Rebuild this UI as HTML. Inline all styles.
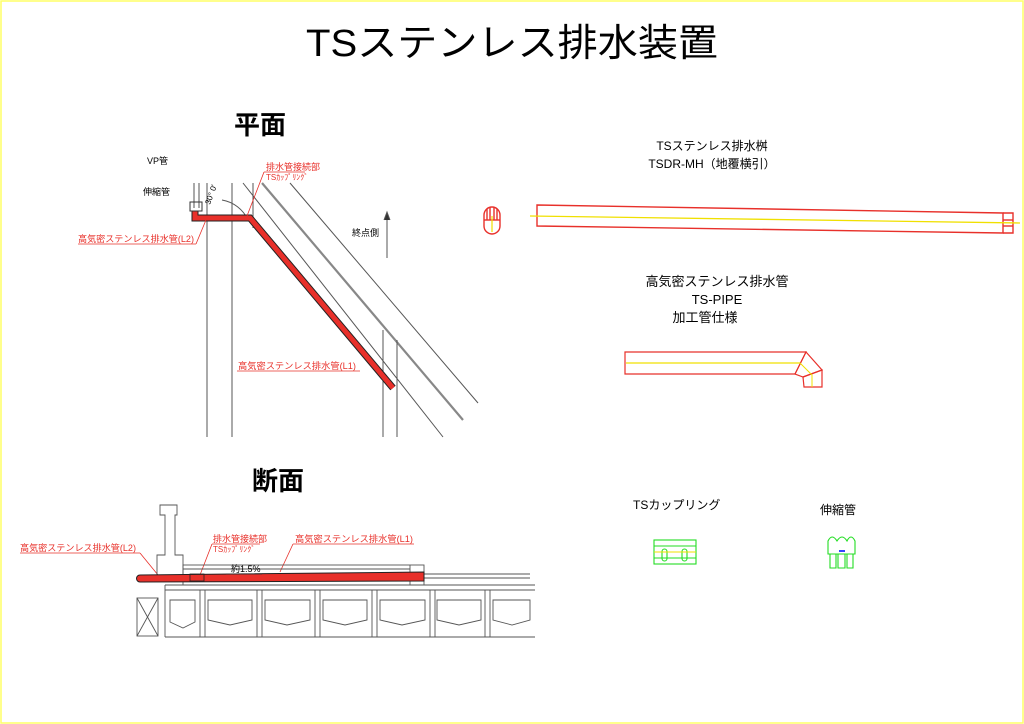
<!DOCTYPE html>
<html><head><meta charset="utf-8"><style>
html,body{margin:0;padding:0;background:#fff;}
svg{display:block;}
text{font-family:"Liberation Sans","Noto Sans CJK JP",sans-serif;}
</style></head><body>
<svg width="1024" height="724" viewBox="0 0 1024 724" xmlns="http://www.w3.org/2000/svg">
<rect x="1" y="1" width="1022" height="722" fill="#fff" stroke="#ffff66" stroke-width="1.5"/>
<text x="512" y="56" font-size="38" text-anchor="middle" fill="#000" textLength="412" lengthAdjust="spacingAndGlyphs">TSステンレス排水装置</text>
<text x="260" y="134" font-size="26" font-weight="bold" text-anchor="middle">平面</text>
<text x="278" y="490" font-size="26" font-weight="bold" text-anchor="middle">断面</text>

<g stroke="#555" stroke-width="1" fill="none">
<line x1="207" y1="183" x2="207" y2="437"/>
<line x1="232" y1="183" x2="232" y2="437"/>
<line x1="253" y1="183" x2="253" y2="228"/>
<line x1="243" y1="183" x2="443" y2="437"/>
<line x1="262" y1="183" x2="463" y2="420" stroke-width="2.2" stroke="#888"/>
<line x1="290" y1="183" x2="478" y2="403"/>
<line x1="383" y1="330" x2="383" y2="437"/>
<line x1="397" y1="340" x2="397" y2="437"/>
<line x1="194" y1="183" x2="194" y2="208"/>
<line x1="199" y1="183" x2="199" y2="208"/>
<path d="M222 200 A35 35 0 0 1 248 220"/>
<line x1="387" y1="258" x2="387" y2="214"/>
<path d="M384 220 L387 212 L390 220" fill="#333"/>
</g>
<path d="M195 211 L195 218 L250 218 L393 388" stroke="#222" stroke-width="7" fill="none" stroke-linejoin="miter"/>
<path d="M195 211 L195 218 L250 218 L393 388" stroke="#e8302a" stroke-width="5" fill="none"/>
<rect x="190" y="202" width="12" height="9" fill="none" stroke="#333"/>
<text x="210" y="205" font-size="8" transform="rotate(-70 210 205)">30° 0'</text>
<text x="147" y="164" font-size="9">VP管</text>
<text x="143" y="195" font-size="9">伸縮管</text>
<text x="352" y="236" font-size="9">終点側</text>
<g fill="#e8302a" font-size="9">
<text x="266" y="170">排水管接続部</text>
<text x="266" y="180" font-size="8">TSｶｯﾌﾟﾘﾝｸﾞ</text>
<text x="78" y="242" textLength="116" lengthAdjust="spacingAndGlyphs">高気密ステンレス排水管(L2)</text>
<text x="238" y="369" textLength="118" lengthAdjust="spacingAndGlyphs">高気密ステンレス排水管(L1)</text>
<text x="20" y="551" textLength="116" lengthAdjust="spacingAndGlyphs">高気密ステンレス排水管(L2)</text>
<text x="213" y="542">排水管接続部</text>
<text x="213" y="552" font-size="8">TSｶｯﾌﾟﾘﾝｸﾞ</text>
<text x="295" y="542" textLength="118" lengthAdjust="spacingAndGlyphs">高気密ステンレス排水管(L1)</text>
</g>
<g stroke="#e8302a" stroke-width="0.8" fill="none">
<line x1="264" y1="172" x2="305" y2="172"/><line x1="264" y1="172" x2="247" y2="216"/>
<line x1="78" y1="244" x2="196" y2="244"/><line x1="196" y1="244" x2="206" y2="220"/>
<line x1="237" y1="371" x2="360" y2="371"/>
<line x1="20" y1="553" x2="140" y2="553"/><line x1="140" y1="553" x2="158" y2="575"/>
<line x1="212" y1="544" x2="260" y2="544"/><line x1="212" y1="544" x2="200" y2="575"/>
<line x1="293" y1="544" x2="414" y2="544"/><line x1="293" y1="544" x2="280" y2="572"/>
</g>

<g stroke="#555" stroke-width="0.9" fill="none">
<path d="M160 505 H177 V515 H175 V555 H183 V580 H157 V555 H165 V515 H160 Z"/>
<rect x="183" y="565" width="241" height="20"/>
<line x1="183" y1="569" x2="410" y2="569"/>
<line x1="410" y1="565" x2="410" y2="585"/>
<line x1="424" y1="574" x2="530" y2="574"/>
<line x1="424" y1="578" x2="530" y2="578"/>
<line x1="165" y1="585" x2="535" y2="585"/>
<line x1="165" y1="590" x2="535" y2="590"/>
<line x1="165" y1="637" x2="535" y2="637"/>
<rect x="137" y="598" width="21" height="38"/>
<line x1="137" y1="598" x2="158" y2="636"/><line x1="158" y1="598" x2="137" y2="636"/>
<line x1="165" y1="585" x2="165" y2="637"/>
<line x1="200" y1="590" x2="200" y2="637"/><line x1="205" y1="590" x2="205" y2="637"/>
<line x1="257" y1="590" x2="257" y2="637"/><line x1="262" y1="590" x2="262" y2="637"/>
<line x1="315" y1="590" x2="315" y2="637"/><line x1="320" y1="590" x2="320" y2="637"/>
<line x1="372" y1="590" x2="372" y2="637"/><line x1="377" y1="590" x2="377" y2="637"/>
<line x1="430" y1="590" x2="430" y2="637"/><line x1="435" y1="590" x2="435" y2="637"/>
<line x1="485" y1="590" x2="485" y2="637"/><line x1="490" y1="590" x2="490" y2="637"/>
<path d="M170 600 H195 V622 L183 628 L170 622 Z"/>
<path d="M208 600 H252 V620 L230 625 L208 620 Z"/>
<path d="M265 600 H310 V620 L287 625 L265 620 Z"/>
<path d="M323 600 H367 V620 L345 625 L323 620 Z"/>
<path d="M380 600 H425 V620 L402 625 L380 620 Z"/>
<path d="M437 600 H481 V620 L459 625 L437 620 Z"/>
<path d="M493 600 H530 V620 L512 625 L493 620 Z"/>
</g>
<path d="M140 575 L424 572 L424 581 L140 582 A3.5 3.5 0 0 1 140 575 Z" fill="#e8302a" stroke="#222" stroke-width="1"/>
<rect x="190" y="574" width="14" height="7" fill="none" stroke="#222" stroke-width="0.8"/>
<text x="231" y="572" font-size="9">約1.5%</text>
<line x1="226" y1="574" x2="262" y2="574" stroke="#333" stroke-width="0.7"/>

<text x="712" y="150" font-size="12" text-anchor="middle">TSステンレス排水桝</text>
<text x="712" y="168" font-size="12" text-anchor="middle">TSDR-MH（地覆横引）</text>
<g fill="none" stroke="#e8302a" stroke-width="1.4">
<path d="M484 215 A8 8 0 0 1 500 215 L500 226 A8 8 0 0 1 484 226 Z"/>
<line x1="487" y1="209" x2="487" y2="220"/><line x1="490" y1="207" x2="490" y2="220"/><line x1="494" y1="207" x2="494" y2="220"/><line x1="497" y1="209" x2="497" y2="220"/>
<line x1="484" y1="220" x2="500" y2="220"/>
<path d="M537 205 L1003 213 L1003 233 L537 226 Z"/>
<path d="M1003 213 H1013 V233 H1003"/>
<line x1="1003" y1="220" x2="1013" y2="220"/><line x1="1003" y1="226" x2="1013" y2="226"/>
</g>
<line x1="530" y1="216" x2="1020" y2="223" stroke="#f0e000" stroke-width="1.3"/>
<line x1="492" y1="216" x2="492" y2="232" stroke="#f0e000" stroke-width="1.2"/>
<text x="717" y="286" font-size="13" text-anchor="middle">高気密ステンレス排水管</text>
<text x="717" y="304" font-size="13" text-anchor="middle">TS-PIPE</text>
<text x="705" y="322" font-size="13" text-anchor="middle">加工管仕様</text>
<g fill="none" stroke="#e8302a" stroke-width="1.2">
<path d="M625 352 H806 L795 374 H625 Z"/>
<path d="M806 352 L822 370 L803 377 L795 374 Z"/>
<path d="M803 377 L822 370 V387 H804 Z"/>
</g>
<line x1="626" y1="363" x2="800" y2="363" stroke="#f0e000" stroke-width="1.3"/>
<path d="M800 363 L812 375 V387" stroke="#f0e000" stroke-width="1" fill="none"/>

<text x="633" y="509" font-size="12">TSカップリング</text>
<text x="820" y="514" font-size="12">伸縮管</text>
<g fill="none" stroke="#22dd22" stroke-width="1.1">
<rect x="654" y="540" width="42" height="24"/>
<line x1="654" y1="546" x2="696" y2="546"/>
<line x1="654" y1="558" x2="696" y2="558"/>
<rect x="662" y="549" width="5" height="12" rx="2.5"/>
<rect x="682" y="549" width="5" height="12" rx="2.5"/>
<path d="M828 554 V541 Q832 533 837 541 Q842 533 847 541 Q851 533 855 541 V554 Z"/>
<path d="M830 554 V568 H836 V554 M838 554 V568 H845 V554 M847 554 V568 H853 V554"/>
</g>
<line x1="654" y1="552" x2="696" y2="552" stroke="#f0e000" stroke-width="1"/>
<line x1="839" y1="551" x2="845" y2="551" stroke="#3344ff" stroke-width="2"/>
</svg>
</body></html>
